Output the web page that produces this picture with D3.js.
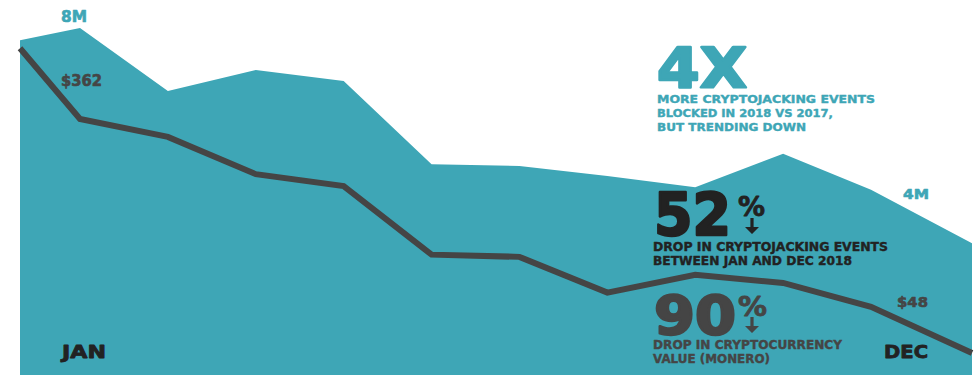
<!DOCTYPE html>
<html><head><meta charset="utf-8">
<script src="https://cdn.jsdelivr.net/npm/d3@7"></script>
<style>
body{margin:0;background:#fff}
svg{display:block}
text{font-family:"DejaVu Sans",sans-serif;font-weight:bold}
</style>
</head><body>
<svg id="chart" width="977" height="375"></svg>
<script>
// ---- data ----
const months = ["JAN","FEB","MAR","APR","MAY","JUN","JUL","AUG","SEP","OCT","NOV","DEC"];
const eventsMillions = [7.72, 8.0, 6.55, 7.03, 6.78, 4.86, 4.82, 4.59, 4.33, 5.10, 4.27, 3.04];
const moneroUSD = [457, 362, 338, 288, 272, 180, 177, 129, 153, 142, 110, 48];
const eventLabels = ["8M", "4M"];
const priceLabels = ["$362", "$48"];

// ---- layout ----
const W = 977, H = 375;
const teal = "#3ea6b6", dark = "#222222", grey = "#454545";
const svg = d3.select("#chart");

const x = d3.scaleLinear().domain([0, 1, 10, 11]).range([20, 80, 871, 972]);
const yEv = d3.scaleLinear().domain([0, 8]).range([H, 28]);
const yPr = d3.scaleLinear().domain([48, 362]).range([353, 119]);

const idx = d3.range(months.length);

svg.append("path")
  .attr("d", d3.area().x(i => x(i)).y0(H).y1(i => yEv(eventsMillions[i])).curve(d3.curveLinear)(idx))
  .attr("fill", teal);

svg.append("path")
  .attr("d", d3.line().x(i => x(i)).y(i => yPr(moneroUSD[i]))(idx))
  .attr("fill", "none").attr("stroke", grey).attr("stroke-width", 6)
  .attr("stroke-linejoin", "miter");

function txt(s, px, py, size, color, len, stroke) {
  const t = svg.append("text").attr("x", px).attr("y", py)
    .attr("font-size", size).attr("fill", color).text(s);
  if (len) t.attr("textLength", len).attr("lengthAdjust", "spacingAndGlyphs");
  if (stroke) t.attr("stroke", color).attr("stroke-width", stroke).attr("stroke-linejoin", "round");
  return t;
}

// value labels
txt(eventLabels[0], 61, 22, 15, teal, 26, 0.6);
txt(priceLabels[0], 61, 86, 15, grey, 41, 0.6);
txt(eventLabels[1], 903, 199, 14, teal, 26, 0.6);
txt(priceLabels[1], 897, 307, 14, grey, 31, 0.6);

// month labels
txt(months[0], 62, 358, 18, dark, 44, 0.8);
txt(months[11], 884, 358, 18, dark, 44, 0.8);

// 4X block
txt("4X", 657, 87, 55, teal, 90, 2.5);
txt("MORE CRYPTOJACKING EVENTS", 657, 103, 11, teal, 218, 0.4);
txt("BLOCKED IN 2018 VS 2017,", 657, 117, 11, teal, 176, 0.4);
txt("BUT TRENDING DOWN", 657, 131, 11, teal, 149, 0.4);

// 52% block
txt("52", 654, 235, 58, dark, 77, 2.5);
txt("%", 738, 216, 27, dark, 27, 0.8);
function arrow(cx, top, bottom, color) {
  svg.append("path")
    .attr("d", `M${cx-1.6},${top} L${cx+1.6},${top} L${cx+1.6},${bottom-7} L${cx+7},${bottom-7} L${cx},${bottom} L${cx-7},${bottom-7} L${cx-1.6},${bottom-7} Z`)
    .attr("fill", color);
}
arrow(752, 218, 234, dark);
txt("DROP IN CRYPTOJACKING EVENTS", 653, 251, 11.5, dark, 235, 0.4);
txt("BETWEEN JAN AND DEC 2018", 653, 265, 11.5, dark, 199, 0.4);

// 90% block
txt("90", 654, 334, 53, grey, 82, 2.5);
txt("%", 738, 316, 27, grey, 29, 0.8);
arrow(752, 317, 333, grey);
txt("DROP IN CRYPTOCURRENCY", 653, 349, 11.5, grey, 189, 0.4);
txt("VALUE (MONERO)", 653, 363, 11.5, grey, 117, 0.4);
</script>
</body></html>
